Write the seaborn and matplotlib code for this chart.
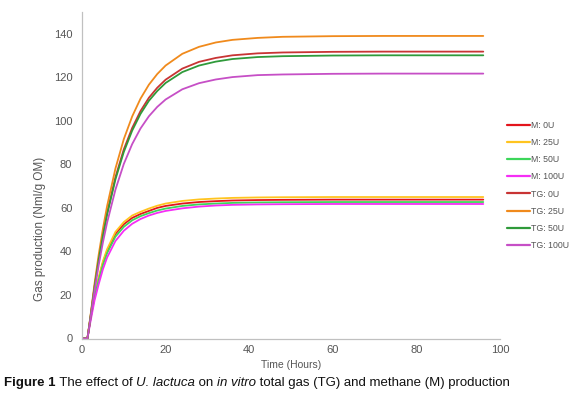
import matplotlib
matplotlib.use("Agg")
import matplotlib.pyplot as plt
import seaborn as sns
import pandas as pd

hours = [0, 1.3, 2, 3, 4, 5, 6, 8, 10, 12, 14, 16, 18, 20, 24, 28, 32, 36, 42, 48, 60, 72, 84, 96]

m_0u = [0, 0, 8.8, 19.6, 27.5, 34.8, 40.2, 48.1, 52.5, 55.4, 57.2, 58.6, 60.0, 60.9, 62.0, 62.7, 63.1, 63.4, 63.6, 63.7, 63.8, 63.8, 63.8, 63.8]
m_25u = [0, 0, 9.0, 20.0, 28.0, 35.5, 41.0, 49.0, 53.5, 56.5, 58.2, 59.7, 61.0, 62.0, 63.2, 63.9, 64.3, 64.6, 64.8, 64.9, 65.0, 65.0, 65.0, 65.0]
m_50u = [0, 0, 8.5, 19.0, 26.8, 33.8, 39.2, 46.8, 51.3, 54.3, 56.2, 57.6, 58.8, 59.7, 60.9, 61.6, 62.0, 62.3, 62.5, 62.6, 62.7, 62.7, 62.7, 62.7]
m_100u = [0, 0, 7.5, 17.5, 25.0, 31.8, 37.2, 44.8, 49.5, 52.7, 54.9, 56.5, 57.7, 58.6, 59.8, 60.6, 61.1, 61.4, 61.6, 61.7, 61.8, 61.8, 61.8, 61.8]
tg_0u = [0, 0, 9.5, 23.9, 36.6, 47.7, 57.6, 74.1, 86.9, 96.7, 104.5, 110.6, 115.2, 118.9, 124.0, 127.1, 128.9, 130.1, 131.0, 131.4, 131.7, 131.8, 131.8, 131.8]
tg_25u = [0, 0, 10.0, 25.2, 38.6, 50.4, 60.8, 78.1, 91.6, 102.0, 110.2, 116.6, 121.5, 125.4, 130.8, 134.0, 136.0, 137.2, 138.1, 138.6, 138.9, 139.0, 139.0, 139.0]
tg_50u = [0, 0, 9.4, 23.5, 36.1, 47.1, 56.9, 73.1, 85.7, 95.5, 103.2, 109.2, 113.7, 117.4, 122.4, 125.4, 127.2, 128.4, 129.3, 129.7, 130.0, 130.1, 130.1, 130.1]
tg_100u = [0, 0, 8.8, 22.0, 33.8, 44.1, 53.2, 68.4, 80.2, 89.3, 96.5, 102.1, 106.4, 109.8, 114.5, 117.3, 119.0, 120.1, 121.0, 121.3, 121.6, 121.7, 121.7, 121.7]

series_names = ["M: 0U", "M: 25U", "M: 50U", "M: 100U", "TG: 0U", "TG: 25U", "TG: 50U", "TG: 100U"]
series_values = [m_0u, m_25u, m_50u, m_100u, tg_0u, tg_25u, tg_50u, tg_100u]
colors = ["#e3141c", "#ffc41f", "#3cd65a", "#f52ef5", "#c83434", "#f08a1c", "#2f9a3a", "#c64fc6"]

x_ticks = [0, 20, 40, 60, 80, 100]
y_ticks = [0, 20, 40, 60, 80, 100, 120, 140]

rows = []
for name, vals in zip(series_names, series_values):
    for h, v in zip(hours, vals):
        rows.append({"Hours": h, "Gas": v, "Series": name})
df = pd.DataFrame(rows)

sns.set_style("white")
plt.rcParams["font.family"] = ["Liberation Sans", "DejaVu Sans"]

fig = plt.figure(figsize=(5.8, 3.94), dpi=100)
ax = fig.add_axes([82 / 580, 1 - 338.5 / 394, (500 - 82) / 580, (338.5 - 12) / 394])

sns.lineplot(data=df, x="Hours", y="Gas", hue="Series", hue_order=series_names,
             palette=dict(zip(series_names, colors)), linewidth=1.3, ax=ax, legend=False)

ax.set_xlim(0, 100)
ax.set_ylim(0, 150)
ax.set_xticks(x_ticks)
ax.set_yticks(y_ticks)
ax.tick_params(axis="both", length=0, labelsize=8, labelcolor="#555555")
ax.tick_params(axis="y", pad=7)
ax.tick_params(axis="x", pad=5)
for s in ["top", "right"]:
    ax.spines[s].set_visible(False)
for s in ["left", "bottom"]:
    ax.spines[s].set_color("#c0c0c0")
    ax.spines[s].set_linewidth(0.9)
ax.set_xlabel("Time (Hours)", fontsize=7.5, color="#555555", labelpad=3)
ax.set_ylabel("")
fig.text(40 / 580, 1 - 229 / 394, "Gas production (Nml/g OM)", rotation=90, fontsize=8.5,
         color="#555555", ha="center", va="center")

handles = [plt.Line2D([], [], color=c, linewidth=1.6) for c in colors]
leg = fig.legend(handles, series_names, loc="upper left", bbox_to_anchor=(507 / 580, 1 - 121 / 394),
                 frameon=False, fontsize=6.3, handlelength=2.6, handletextpad=0.1,
                 labelspacing=0.93, borderaxespad=0, borderpad=0)
for t in leg.get_texts():
    t.set_color("#555555")

# caption with mixed styles
pieces = [("Figure 1", "bold", "normal"), (" The effect of ", "normal", "normal"),
          ("U. lactuca", "normal", "italic"), (" on ", "normal", "normal"),
          ("in vitro", "normal", "italic"), (" total gas (TG) and methane (M) production", "normal", "normal")]
fig.canvas.draw()
renderer = fig.canvas.get_renderer()
x = 4 / 580
for txt, w, st in pieces:
    t = fig.text(x, 1 - 383 / 394, txt, fontsize=9.5, fontweight=w, fontstyle=st,
                 color="#111111", va="center", ha="left")
    bb = t.get_window_extent(renderer=renderer)
    x = bb.x1 / fig.bbox.width

fig.savefig("out.png", dpi=100)
